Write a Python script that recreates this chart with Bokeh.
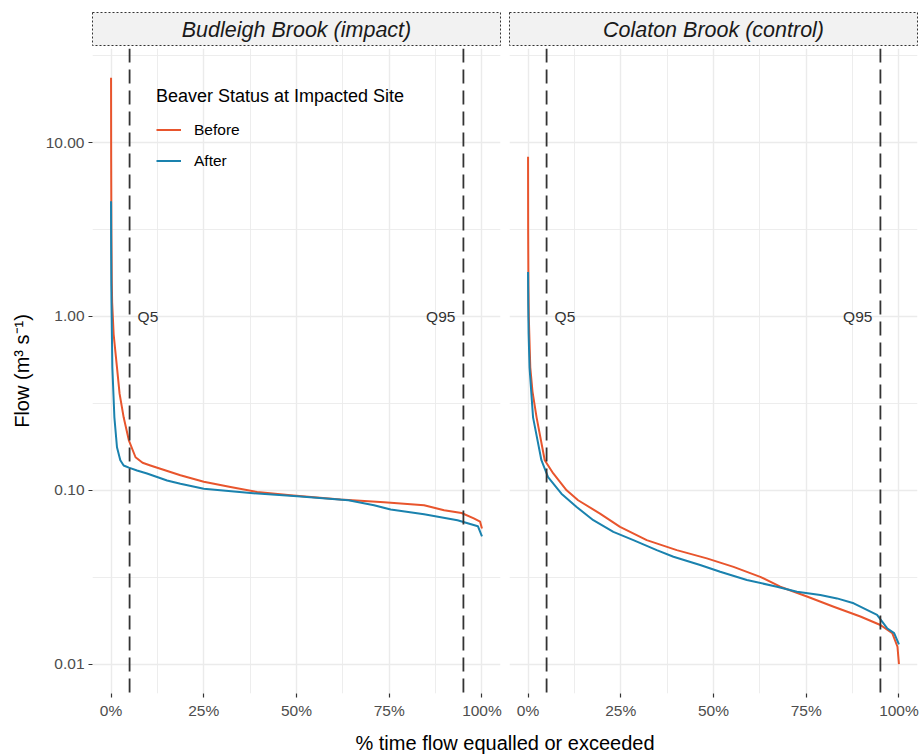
import numpy as np
from bokeh.plotting import figure
from bokeh.layouts import row, column
from bokeh.models import FixedTicker, Span, Range1d
from bokeh.embed import file_html
from bokeh.resources import INLINE
from bokeh.core.properties import value

# ---------------- data ----------------
sites = ["Budleigh Brook (impact)", "Colaton Brook (control)"]
status = ["Before", "After"]

bud_before_pct = [0, 0.03, 0.1, 0.2, 0.3, 0.7, 1.6, 2.3, 3.4, 4.8, 6.6, 8.5, 10.6, 13.3,
                  18.7, 25, 32.2, 39.4, 48.4, 61.9, 73.6, 84.4, 89.8, 94.5, 97.8, 99.5, 100]
bud_before_flow = [23.6, 8.0, 3.0, 1.6, 1.2, 0.79, 0.51, 0.36, 0.263, 0.194, 0.155, 0.144, 0.139, 0.133,
                   0.122, 0.112, 0.1045, 0.0978, 0.0936, 0.0885, 0.0854, 0.082, 0.0768, 0.0741, 0.0689, 0.066, 0.0604]

bud_after_pct = [0, 0.03, 0.08, 0.12, 0.35, 0.9, 1.6, 2.5, 3.4, 4.8, 7.0, 9.7, 12.6, 15.1,
                 18.7, 25, 37.6, 50.2, 64, 70.9, 75.4, 84.4, 93.4, 98.9, 100]
bud_after_flow = [4.6, 2.5, 1.5, 1.2, 0.51, 0.263, 0.177, 0.149, 0.139, 0.135, 0.13, 0.125, 0.119, 0.114,
                  0.109, 0.102, 0.0965, 0.0924, 0.0877, 0.082, 0.0775, 0.0728, 0.0673, 0.0622, 0.0544]

col_before_pct = [0, 0.03, 0.1, 0.2, 0.6, 1.2, 2.3, 4.5, 6.8, 10.4, 13.5, 19.4, 24.8, 32,
                  40.1, 48.2, 55.4, 62.6, 68, 75.2, 82.4, 89.6, 95, 98.2, 99.6, 100]
col_before_flow = [8.3, 3.0, 1.5, 1.0, 0.51, 0.37, 0.263, 0.149, 0.125, 0.1, 0.0877, 0.0735, 0.0616, 0.0517,
                   0.0453, 0.0406, 0.0363, 0.0318, 0.0279, 0.0245, 0.0214, 0.0188, 0.0168, 0.0151, 0.0126, 0.01]

col_after_pct = [0, 0.05, 0.15, 0.4, 1.35, 3.6, 5.4, 9, 13.1, 17.6, 23, 28.4, 34.7, 39.2,
                 46.4, 51.8, 59, 67.1, 72.5, 78.8, 83.3, 87.8, 94.1, 96.8, 98.7, 100]
col_after_flow = [1.8, 1.2, 0.8, 0.51, 0.263, 0.149, 0.119, 0.0957, 0.0802, 0.0673, 0.0577, 0.0517, 0.0453, 0.0415,
                  0.0372, 0.034, 0.0305, 0.0279, 0.0261, 0.025, 0.0239, 0.0224, 0.0192, 0.0161, 0.0151, 0.013]

x_ticks = [0, 25, 50, 75, 100]
x_tick_labels = ["0%", "25%", "50%", "75%", "100%"]
x_minor = [12.5, 37.5, 62.5, 87.5]
y_ticks = [0.01, 0.1, 1, 10]
y_tick_labels = ["0.01", "0.10", "1.00", "10.00"]
y_minor = [0.0316, 0.316, 3.16, 31.6]

q_pct = [5, 95]
q_labels = ["Q5", "Q95"]
q_label_flow = [1.0, 1.0]

y_title = "Flow (m³ s⁻¹)"
x_title = "% time flow equalled or exceeded"
legend_title = "Beaver Status at Impacted Site"

# ---------------- styling ----------------
FONT = "Liberation Sans"
RED = "#E8552D"
BLUE = "#1A82AE"
GRID = "#EBEBEB"

all_flow = np.array(bud_before_flow + bud_after_flow + col_before_flow + col_after_flow)
lo, hi = np.log10(all_flow.min()), np.log10(all_flow.max())
pad = 0.05 * (hi - lo)
y_rng = (10 ** (lo - pad), 10 ** (hi + pad))
x_rng = (min(x_ticks) - 0.05 * (max(x_ticks) - min(x_ticks)),
         max(x_ticks) + 0.05 * (max(x_ticks) - min(x_ticks)))

series = [
    (bud_before_pct, bud_before_flow, bud_after_pct, bud_after_flow),
    (col_before_pct, col_before_flow, col_after_pct, col_after_flow),
]


def make_strip(label, width, bl, br):
    s = figure(width=width, height=46, x_range=Range1d(0, 1), y_range=Range1d(0, 1),
               x_axis_location=None, y_axis_location=None, toolbar_location=None,
               output_backend="svg", min_border=0, min_border_left=bl, min_border_right=br,
               min_border_top=12, min_border_bottom=0)
    s.grid.visible = False
    s.background_fill_color = "#F2F2F2"
    s.outline_line_color = "#333333"
    s.outline_line_dash = "2 2"
    s.outline_line_width = 1
    s.text(x=[0.5], y=[0.5], text=[label], text_align="center", text_baseline="middle",
           text_font=value(FONT), text_font_style="italic", text_font_size="21.5px",
           text_color="#1A1A1A")
    return s


def make_panel(i, width, bl, br, show_y, show_legend):
    bp, bf, ap, af = series[i]
    p = figure(width=width, height=676, x_range=Range1d(*x_rng), y_range=Range1d(*y_rng),
               y_axis_type="log", toolbar_location=None, output_backend="svg",
               min_border=0, min_border_left=bl, min_border_right=br,
               min_border_top=2, min_border_bottom=29)
    p.outline_line_color = None
    p.background_fill_color = "white"

    xt = FixedTicker(ticks=x_ticks, minor_ticks=x_minor)
    yt = FixedTicker(ticks=y_ticks, minor_ticks=y_minor)
    p.xaxis.ticker = xt
    p.yaxis.ticker = yt
    p.xgrid.ticker = xt
    p.ygrid.ticker = yt
    p.xaxis.major_label_overrides = dict(zip(x_ticks, x_tick_labels))
    p.yaxis.major_label_overrides = dict(zip(y_ticks, y_tick_labels))

    for g in (p.xgrid, p.ygrid):
        g.grid_line_color = GRID
        g.grid_line_width = 1.4
        g.minor_grid_line_color = GRID
        g.minor_grid_line_width = 0.9

    p.axis.axis_line_color = None
    p.axis.major_tick_line_color = "#333333"
    p.axis.major_tick_line_width = 1.2
    p.axis.major_tick_out = 4
    p.axis.major_tick_in = 0
    p.axis.minor_tick_line_color = None
    p.axis.major_label_text_font = FONT
    p.axis.major_label_text_font_size = "15.5px"
    p.axis.major_label_text_color = "#4D4D4D"
    p.xaxis.major_label_standoff = 4
    p.yaxis.major_label_standoff = 4

    if show_y:
        p.yaxis.axis_label = y_title
        p.yaxis.axis_label_text_font = FONT
        p.yaxis.axis_label_text_font_size = "20px"
        p.yaxis.axis_label_text_font_style = "normal"
        p.yaxis.axis_label_text_color = "black"
        p.yaxis.axis_label_standoff = 10
    else:
        p.yaxis.visible = False

    for q in q_pct:
        p.add_layout(Span(location=q, dimension="height", line_color="#333333",
                          line_width=1.8, line_dash="14 7"))
    p.text(x=[q_pct[0]], y=[q_label_flow[0]], text=[q_labels[0]], x_offset=8,
           text_align="left", text_baseline="middle", text_font=value(FONT),
           text_font_size="15.5px", text_color="#333333")
    p.text(x=[q_pct[1]], y=[q_label_flow[1]], text=[q_labels[1]], x_offset=-8,
           text_align="right", text_baseline="middle", text_font=value(FONT),
           text_font_size="15.5px", text_color="#333333")

    if show_legend:
        p.line(bp, bf, line_color=RED, line_width=2, line_join="round", legend_label=status[0])
        p.line(ap, af, line_color=BLUE, line_width=2, line_join="round", legend_label=status[1])
        lg = p.legend[0]
        lg.title = legend_title
        lg.title_text_font = FONT
        lg.title_text_font_size = "18px"
        lg.title_text_font_style = "normal"
        lg.title_text_color = "black"
        lg.title_standoff = 10
        lg.label_text_font = FONT
        lg.label_text_font_size = "15.5px"
        lg.label_text_color = "black"
        lg.glyph_width = 25
        lg.glyph_height = 25
        lg.spacing = 6
        lg.label_standoff = 13
        lg.padding = 0
        lg.margin = 0
        lg.background_fill_alpha = 0
        lg.border_line_color = None
        lg.location = (64, 520)
    else:
        p.line(bp, bf, line_color=RED, line_width=2, line_join="round")
        p.line(ap, af, line_color=BLUE, line_width=2, line_join="round")
    return p


stripL = make_strip(sites[0], 504, 92, 4)
stripR = make_strip(sites[1], 415, 5, 2)
panelL = make_panel(0, 504, 92, 4, True, True)
panelR = make_panel(1, 415, 5, 2, False, False)

bottom = figure(width=919, height=32, x_range=Range1d(0, 1), y_range=Range1d(0, 1),
                x_axis_location=None, y_axis_location=None, toolbar_location=None,
                output_backend="svg", min_border=0, min_border_left=92, min_border_right=2)
bottom.grid.visible = False
bottom.outline_line_color = None
bottom.text(x=[0.5], y=[0.36], text=[x_title], text_align="center", text_baseline="middle",
            text_font=value(FONT), text_font_size="20px", text_color="black")

layout = column(row(column(stripL, panelL), column(stripR, panelR)), bottom)

open("out.html", "w").write(file_html(layout, INLINE))
